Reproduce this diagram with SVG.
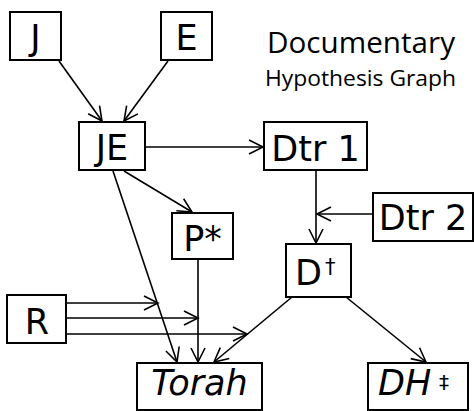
<svg xmlns="http://www.w3.org/2000/svg" width="474" height="411" viewBox="0 0 474 411">
<defs>
<style>
.box{fill:#fff;stroke:#000;stroke-width:2}
.lbl{font-family:"DejaVu Sans",sans-serif;font-size:35px;fill:#000;text-anchor:middle}
.it{font-style:italic}
.ttl{font-family:"Open Sans","DejaVu Sans",sans-serif;fill:#000}
.edge{fill:none;stroke:#000;stroke-width:1.6;marker-end:url(#arr)}
</style>
<marker id="arr" markerUnits="userSpaceOnUse" markerWidth="20" markerHeight="20" viewBox="-16 -10 20 20" refX="0" refY="0" orient="auto">
<path d="M-14,-7 L0,0 L-14,7" fill="none" stroke="#000" stroke-width="1.6"/>
</marker>
</defs>
<rect width="474" height="411" fill="#fff"/>
<g id="title">
<text class="ttl" x="267" y="53" font-size="29.5" textLength="188" lengthAdjust="spacingAndGlyphs">Documentary</text>
<text class="ttl" x="265" y="86" font-size="22" textLength="191" lengthAdjust="spacingAndGlyphs">Hypothesis Graph</text>
</g>
<g id="connectors">
<line class="edge" x1="59" y1="61" x2="102" y2="121"/>
<line class="edge" x1="168" y1="61" x2="124" y2="121"/>
<line class="edge" x1="146" y1="147" x2="263" y2="147"/>
<line class="edge" x1="113" y1="171" x2="177" y2="362"/>
<line class="edge" x1="124" y1="171" x2="192" y2="212"/>
<line class="edge" x1="198" y1="260" x2="198" y2="362"/>
<line class="edge" x1="316" y1="171" x2="316" y2="243"/>
<line class="edge" x1="372" y1="214" x2="317" y2="214"/>
<line class="edge" x1="292" y1="297" x2="214" y2="362"/>
<line class="edge" x1="346" y1="297" x2="426" y2="362"/>
<line class="edge" x1="67" y1="303" x2="158" y2="303"/>
<line class="edge" x1="67" y1="318" x2="198" y2="318"/>
<line class="edge" x1="67" y1="334" x2="247" y2="334"/>
</g>
<g id="J"><rect class="box" x="10" y="12" width="51" height="48"/><text class="lbl" x="35.5" y="50">J</text></g>
<g id="E"><rect class="box" x="161" y="12" width="51" height="48"/><text class="lbl" x="186.5" y="50">E</text></g>
<g id="JE"><rect class="box" x="79" y="122" width="66" height="48"/><text class="lbl" x="112" y="160">JE</text></g>
<g id="Dtr1"><rect class="box" x="264" y="122" width="103" height="48"/><text class="lbl" x="315.5" y="161">Dtr 1</text></g>
<g id="Dtr2"><rect class="box" x="373" y="193" width="100" height="48"/><text class="lbl" x="423" y="230">Dtr 2</text></g>
<g id="P"><rect class="box" x="172" y="213" width="61" height="46"/><text class="lbl" x="202.5" y="251">P*</text></g>
<g id="D"><rect class="box" x="286" y="244" width="65" height="53"/><text class="lbl" x="295" y="285" style="text-anchor:start">D<tspan x="325" y="274" font-size="21">†</tspan></text></g>
<g id="R"><rect class="box" x="7" y="295" width="59" height="48"/><text class="lbl" x="37" y="334">R</text></g>
<g id="Torah"><rect class="box" x="137" y="363" width="125" height="47"/><text class="lbl it" x="199.5" y="395">Torah</text></g>
<g id="DH"><rect class="box" x="368" y="363" width="100" height="47"/><text class="lbl" x="378" y="395" style="text-anchor:start"><tspan class="it">DH</tspan><tspan x="439" y="389" font-size="20">‡</tspan></text></g>
</svg>
